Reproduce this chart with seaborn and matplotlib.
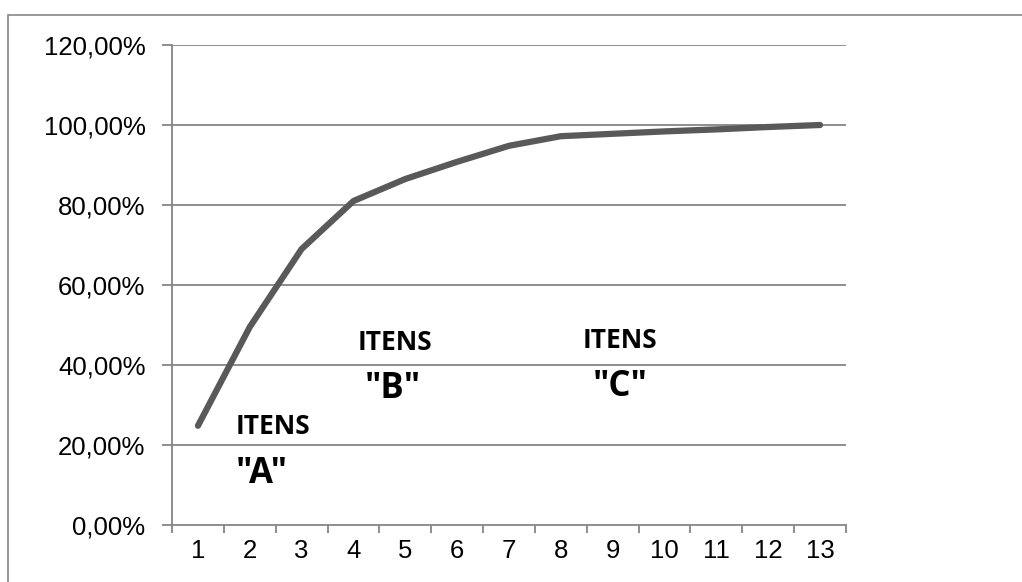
import matplotlib
matplotlib.use("Agg")
import matplotlib.pyplot as plt
import seaborn as sns
import pandas as pd
import numpy as np
from matplotlib.patches import Rectangle
from matplotlib.ticker import FixedLocator, FuncFormatter

categories = [1, 2, 3, 4, 5, 6, 7, 8, 9, 10, 11, 12, 13]
cumulative_pct = [24.8, 49.5, 69.0, 81.0, 86.5, 90.8, 94.8, 97.2, 97.8, 98.4, 98.9, 99.5, 100.0]
y_ticks = [0, 20, 40, 60, 80, 100, 120]
labels = [("ITENS", 2.45, 24.5, 19), ('"A"', 2.24, 12.8, 25),
          ("ITENS", 4.80, 45.5, 19), ('"B"', 4.76, 34.0, 25),
          ("ITENS", 9.14, 46.0, 19), ('"C"', 9.14, 34.5, 25)]

df = pd.DataFrame({"cat": categories, "pct": cumulative_pct})

sns.set_style("white")
plt.rcParams['font.family'] = ['Liberation Sans', 'DejaVu Sans']

W, H = 1022, 582
fig = plt.figure(figsize=(W / 100, H / 100), dpi=100)
ax = fig.add_axes([172 / W, 1 - 525 / H, (846 - 172) / W, (525 - 45) / H])

gray = "#868686"
for y in y_ticks[1:]:
    ax.axhline(y, color=gray, lw=1.3, zorder=1)

sns.lineplot(data=df, x="cat", y="pct", ax=ax, color="#595959", lw=4.5,
             solid_capstyle="round", zorder=3)

ax.set_xlim(0.5, 13.5)
ax.set_ylim(0, 120)
ax.set_xlabel("")
ax.set_ylabel("")

for s in ["top", "right"]:
    ax.spines[s].set_visible(False)
for s in ["left", "bottom"]:
    ax.spines[s].set_color(gray)
    ax.spines[s].set_linewidth(1.3)

ax.xaxis.set_major_locator(FixedLocator(categories))
ax.set_xticklabels([str(c) for c in categories])
ax.xaxis.set_minor_locator(FixedLocator(list(np.arange(0.5, 14, 1.0))))
ax.tick_params(axis="x", which="major", length=0, pad=10, labelsize=18.5, labelcolor="black")
ax.tick_params(axis="x", which="minor", length=6, width=1.3, color=gray, direction="out", bottom=True)

ax.yaxis.set_major_locator(FixedLocator(y_ticks))
ax.yaxis.set_major_formatter(FuncFormatter(lambda v, p: f"{v:.2f}".replace(".", ",") + "%"))
ax.tick_params(axis="y", which="major", length=7, width=1.3, color=gray, direction="out",
               left=True, pad=12, labelsize=18.5, labelcolor="black")

for txt, x, y, fs in labels:
    ax.text(x, y, txt, ha="center", va="center", fontsize=fs, fontweight="bold",
            family=["Open Sans", "DejaVu Sans"], color="black", zorder=4)

fig.patches.append(Rectangle((8 / W, -0.1), 1.2, 1.1 - 15 / H, transform=fig.transFigure,
                             fill=False, edgecolor=gray, lw=1.2))

fig.savefig("out.png", dpi=100)
